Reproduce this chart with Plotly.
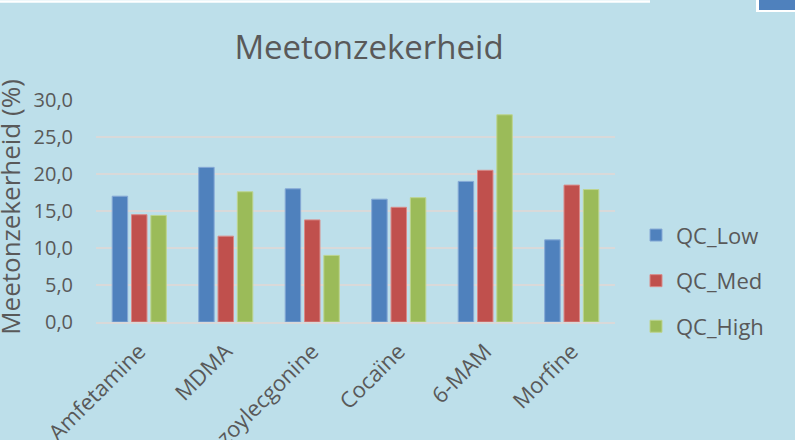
import plotly.graph_objects as go

categories = ["Amfetamine", "MDMA", "Benzoylecgonine", "Cocaïne", "6-MAM", "Morfine"]
qc_low = [17.0, 20.9, 18.0, 16.6, 19.0, 11.1]
qc_med = [14.5, 11.6, 13.8, 15.5, 20.5, 18.5]
qc_high = [14.4, 17.6, 9.0, 16.8, 28.0, 17.9]
series_names = ["QC_Low", "QC_Med", "QC_High"]
y_ticks = [0, 5, 10, 15, 20, 25, 30]

colors = ["#4F81BD", "#C0504D", "#9BBB59"]
borders = ["#86A9D6", "#D98A88", "#BDD48F"]
BG = "#BDDFEA"
TXT = "#595959"
FONT = "Open Sans"

W, H = 795, 440
L, R, T, B = 96, 615, 100, 322.3

def px_x(px):
    return (px - L) / (R - L)

def px_y(py):
    return (B - py) / (B - T)

fig = go.Figure()
for name, vals, c, bc in zip(series_names, [qc_low, qc_med, qc_high], colors, borders):
    fig.add_trace(go.Bar(
        x=categories, y=vals, name=name, legendgroup=name,
        marker=dict(color=c, line=dict(color=bc, width=1)),
    ))

fig.update_layout(
    width=W, height=H,
    margin=dict(l=L, r=W - R, t=T, b=H - B, autoexpand=False),
    paper_bgcolor=BG, plot_bgcolor=BG,
    separators=",.",
    barmode="group", bargap=0.33, bargroupgap=0.2,
    font=dict(family=FONT, color=TXT, size=20),
    title=dict(text="Meetonzekerheid", font=dict(size=33, color=TXT, family=FONT),
               x=369 / W, xanchor="center", xref="container",
               y=1 - 47 / H, yanchor="middle", yref="container"),
    legend=dict(x=px_x(636), xanchor="left", y=px_y(281), yanchor="middle",
                font=dict(size=22, color=TXT), bgcolor="rgba(0,0,0,0)",
                traceorder="grouped", tracegroupgap=14, itemwidth=30),
    xaxis=dict(tickangle=-45, tickfont=dict(size=22, color=TXT), showgrid=False,
               showline=True, linecolor="#D9D9D9", linewidth=1.5, ticks="",
               ticklabelstandoff=6),
    yaxis=dict(range=[0, 30], tickvals=y_ticks, tickformat=".1f",
               tickfont=dict(size=20, color=TXT), showgrid=True,
               gridcolor="#D9D9D9", gridwidth=1.5, zeroline=False,
               showline=False, ticks="", ticklabelstandoff=22),
    annotations=[dict(text="Meetonzekerheid (%)", textangle=-90,
                      xref="paper", yref="paper", x=px_x(10), y=px_y(207),
                      xanchor="center", yanchor="middle", showarrow=False,
                      font=dict(size=26, color=TXT, family=FONT))],
    shapes=[
        dict(type="rect", xref="paper", yref="paper", x0=px_x(0), x1=px_x(650),
             y0=px_y(0), y1=px_y(2.5), fillcolor="white", line=dict(width=0), layer="above"),
        dict(type="rect", xref="paper", yref="paper", x0=px_x(756), x1=px_x(796),
             y0=px_y(-1), y1=px_y(12), fillcolor="white", line=dict(width=0), layer="above"),
        dict(type="rect", xref="paper", yref="paper", x0=px_x(759), x1=px_x(796),
             y0=px_y(-1), y1=px_y(10), fillcolor="#4F81BD", line=dict(width=0), layer="above"),
    ],
)

fig.write_html("out.html")
